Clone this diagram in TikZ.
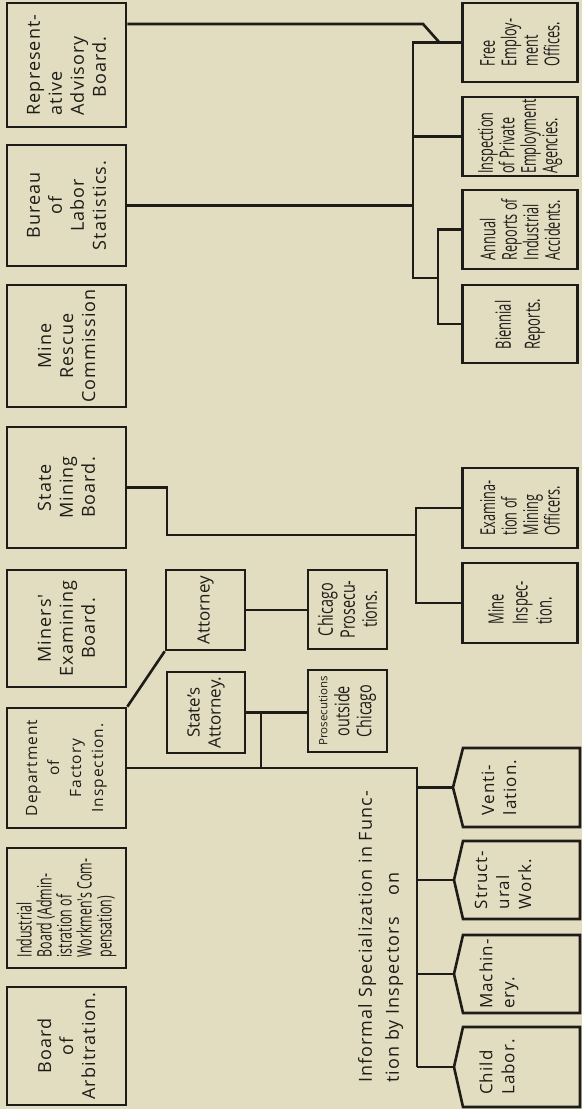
\documentclass[tikz,border=0pt]{standalone}
\usepackage{fontspec}
\setmainfont{Open Sans}
\newfontfamily\widefont[LetterSpace=6]{Open Sans}
\newfontfamily\cndfont[FakeStretch=0.62]{Open Sans}
\newfontfamily\midfont[FakeStretch=0.72]{Open Sans}
\definecolor{paper}{RGB}{226,220,192}
\definecolor{ink}{RGB}{30,28,24}
\begin{document}
\begin{tikzpicture}[x=1pt,y=1pt]
\fill[paper] (0,0) rectangle (582,1109);
\useasboundingbox (0,0) rectangle (582,1109);
\begin{scope}[shift={(582,0)}, rotate=90, transform shape,
  every node/.style={text=ink},
  box/.style={draw=ink, line width=2.6pt, inner sep=0pt, align=center},
  topbox/.style={box, minimum height=119pt, font=\widefont\fontsize{18}{22}\selectfont},
  leafbox/.style={box, minimum height=115pt, align=left, font=\cndfont\fontsize{20.5}{21.5}\selectfont},
  midbox/.style={box, minimum height=79pt},
  pentext/.style={align=left, inner sep=0pt, font=\widefont\fontsize{17}{22}\selectfont},
  link/.style={draw=ink, line width=2.6pt},
]
% top row
\node[topbox, minimum width=124pt, align=left] (rep) at (1044,515.5) {Represent-\\ative\\Advisory\\\hspace{1em}Board.};
\node[topbox, minimum width=121pt] (bur) at (903.5,515.5) {Bureau\\of\\Labor\\Statistics.};
\node[topbox, minimum width=122pt] (mrc) at (763,515.5) {Mine\\Rescue\\Commission};
\node[topbox, minimum width=121pt] (smb) at (621.5,515.5) {State\\Mining\\Board.};
\node[topbox, minimum width=117pt] (meb) at (480.5,515.5) {Miners'\\Examining\\Board.};
\node[topbox, minimum width=120pt, font=\widefont\fontsize{15.5}{22}\selectfont] (dfi) at (341,515.5) {Department\\of\\Factory\\Inspection.};
\node[topbox, minimum width=120pt, align=left, font=\cndfont\fontsize{20}{20}\selectfont] (ind) at (201,515.5) {Industrial\\Board (Admin-\\istration of\\Workmen's Com-\\pensation)};
\node[topbox, minimum width=118pt] (arb) at (63,515.5) {Board\\of\\Arbitration.};
% right column
\node[leafbox, minimum width=79pt] (free) at (1066.5,62) {Free\\Employ-\\ment\\Offices.};
\node[leafbox, minimum width=79pt] (ipa) at (972.5,62) {Inspection\\of Private\\Employment\\Agencies.};
\node[leafbox, minimum width=79pt] (ann) at (879.5,62) {Annual\\Reports of\\Industrial\\Accidents.};
\node[leafbox, minimum width=78pt, font=\cndfont\fontsize{21}{29}\selectfont] (bie) at (785,62) {Biennial\\Reports.};
\node[leafbox, minimum width=80pt] (exm) at (601,62) {Examina-\\tion of\\Mining\\Officers.};
\node[leafbox, minimum width=80pt, font=\cndfont\fontsize{21}{24}\selectfont] (min) at (506,62) {Mine\\Inspec-\\tion.};
% attorneys
\node[midbox, minimum width=80pt, font=\fontsize{17}{21}\selectfont] (att) at (499,376.5) {Attorney};
\node[midbox, minimum width=81pt, minimum height=78pt, font=\fontsize{17}{21}\selectfont] (sat) at (396.5,376) {State's\\Attorney.};
\node[midbox, minimum width=79pt, font=\midfont\fontsize{20}{22}\selectfont] (chi) at (499.5,234.5) {Chicago\\Prosecu-\\tions.};
\node[midbox, minimum width=82pt, font=\midfont\fontsize{20}{22}\selectfont] (pro) at (398,234.5) {{\normalfont\fontsize{11.5}{15}\selectfont Prosecutions}\\outside\\Chicago};
% pentagon leaves
\coordinate (vt) at (321.5,129);
\coordinate (st) at (229,128);
\coordinate (mt) at (135,128);
\coordinate (ct) at (42,128);
\draw[link] (282,2) -- (282,119) -- (vt) -- (361,119) -- (361,2) -- cycle;
\draw[link] (190,2) -- (190,119) -- (st) -- (268,119) -- (268,2) -- cycle;
\draw[link] (96,2) -- (96,119) -- (mt) -- (174,119) -- (174,2) -- cycle;
\draw[link] (2,2) -- (2,119) -- (ct) -- (82,119) -- (82,2) -- cycle;
\node[pentext] (ven) at (321.5,83) {Venti-\\lation.};
\node[pentext] (str) at (229,79) {Struct-\\ural\\Work.};
\node[pentext] (mac) at (135,83) {Machin-\\ery.};
\node[pentext] (chl) at (42,85) {Child\\Labor.};
% caption text
\node[align=left, inner sep=0pt, anchor=north west, font=\widefont\fontsize{18}{27}\selectfont] (inf) at (26,224) {Informal Specialization in Func-\\tion by Inspectors\hspace{1.2em}on};
% connectors: Bureau / Representative
\coordinate (r1) at (1085,159);
\coordinate (r2) at (1067,143);
\draw[link] (r1 |- rep.south) -- (r1) -- (r2);
\coordinate (b1) at (1066.5,169);
\coordinate (b2) at (831,169);
\coordinate (b3) at (831,144);
\draw[link] (free.north) -- (b1) -- (b2) -- (b3);
\draw[link] (ipa.north) -- (ipa.north |- b1);
\draw[link] (bur.south) -- (bur.south |- b1);
\draw[link] (ann.north) -- (ann.north |- b3) -- (bie.north |- b3) -- (bie.north);
% State Mining Board
\coordinate (m1) at (621.5,415);
\coordinate (m2) at (574,415);
\coordinate (m3) at (574,166);
\draw[link] (smb.south) -- (m1) -- (m2) -- (m3);
\draw[link] (exm.north) -- (exm.north |- m3) -- (min.north |- m3) -- (min.north);
% Department of Factory Inspection
\coordinate (d1) at (341,165);
\draw[link] (dfi.south) -- (d1) -- (ct |- d1);
\draw[link] (vt |- d1) -- (vt);
\draw[link] (st |- d1) -- (st);
\draw[link] (mt |- d1) -- (mt);
\draw[link] (ct |- d1) -- (ct);
\draw[link] (dfi.south east) -- (att.north west);
\draw[link] (att.south) -- (att.south |- chi.north);
\draw[link] (sat.south) -- (sat.south |- pro.north);
\coordinate (j1) at (376,321);
\draw[link] (sat.south |- j1) -- (dfi.south |- j1);
\end{scope}
\end{tikzpicture}
\end{document}
